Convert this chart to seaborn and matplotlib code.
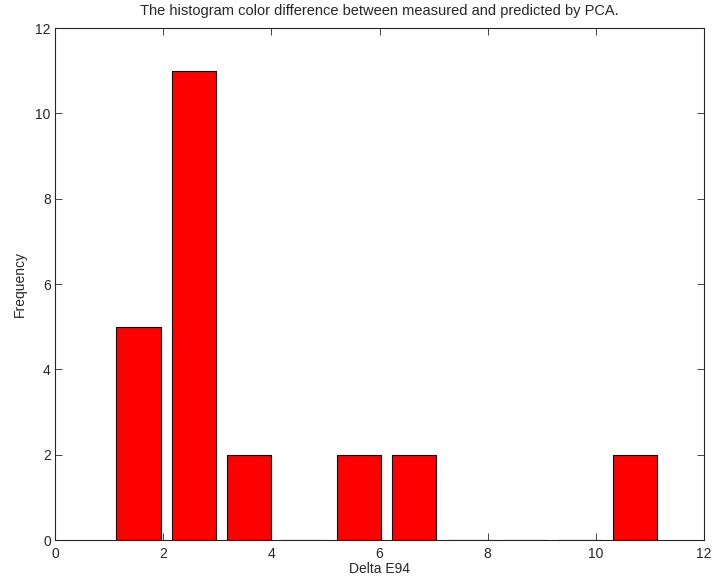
import matplotlib
matplotlib.use("Agg")
import matplotlib.pyplot as plt
import seaborn as sns
import pandas as pd

bin_centers = [1.545, 2.565, 3.585, 4.605, 5.625, 6.645, 7.665, 8.685, 9.705, 10.725]
frequency = [5, 11, 2, 0, 2, 2, 0, 0, 0, 2]
x_ticks = [0, 2, 4, 6, 8, 10, 12]
y_ticks = [0, 2, 4, 6, 8, 10, 12]

sns.set_style("ticks")
plt.rcParams['font.family'] = ['Liberation Sans', 'DejaVu Sans']
plt.rcParams['xtick.direction'] = 'in'
plt.rcParams['ytick.direction'] = 'in'

df = pd.DataFrame({"center": bin_centers, "count": frequency})

fig = plt.figure(figsize=(7.13, 5.81), dpi=100)
ax = fig.add_axes([55/713, 1 - 540/581, (704-55)/713, (540-28)/581])
sns.barplot(data=df, x="center", y="count", native_scale=True, width=0.8,
            color="#ff0000", saturation=1, edgecolor="black", linewidth=0.8, ax=ax)
ax.set_xlim(0, 12)
ax.set_ylim(0, 12)
ax.set_xticks(x_ticks)
ax.set_yticks(y_ticks)
ax.tick_params(top=True, right=True, labelsize=10, length=5, width=0.6)
ax.tick_params(axis='x', pad=5)
ax.tick_params(axis='y', pad=3)
for s in ax.spines.values():
    s.set_visible(True)
    s.set_linewidth(0.8)
ax.set_xlabel("Delta E94", fontsize=10, labelpad=1)
ax.set_ylabel("Frequency", fontsize=10, labelpad=6)
ax.set_title("The histogram color difference between measured and predicted by PCA.", fontsize=10.5, pad=9)
fig.savefig("out.png", dpi=100)
